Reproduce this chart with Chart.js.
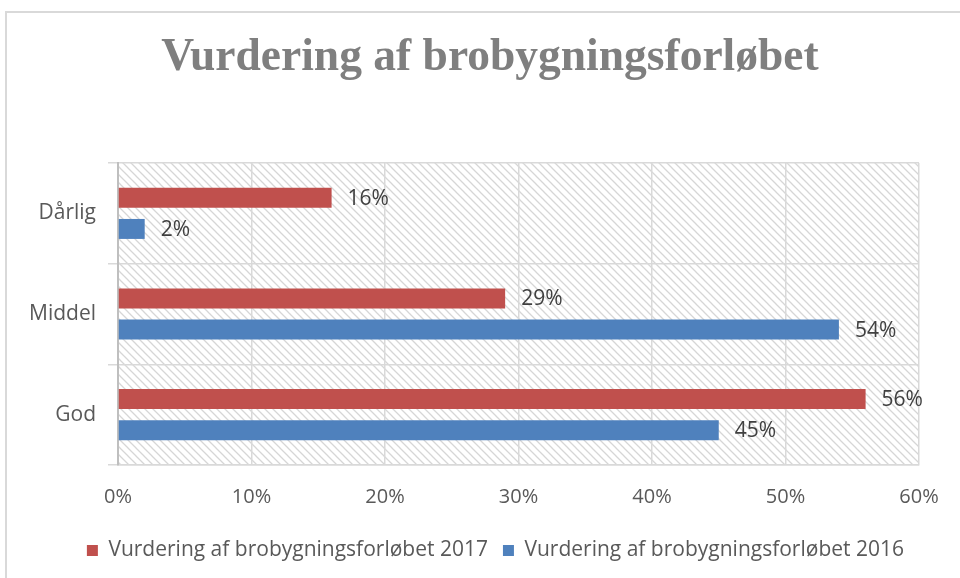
<!DOCTYPE html>
<html>
<head>
<meta charset="utf-8">
<script src="https://cdn.jsdelivr.net/npm/chart.js@4/dist/chart.umd.min.js"></script>
<style>
  html, body { margin: 0; padding: 0; background: #fff; }
  #frame { position: absolute; left: 5px; top: 11px; width: 1000px; height: 600px; border: 2px solid #d9d9d9; }
  #wrap { position: absolute; left: 0; top: 0; width: 960px; height: 578px; }
</style>
</head>
<body>
<div id="frame"></div>
<div id="wrap"><canvas id="myChart" width="960" height="578"></canvas></div>
<script>
// data
const chartTitle = "Vurdering af brobygningsforløbet";
const categories = ["Dårlig", "Middel", "God"];
const values2017 = [16, 29, 56];
const values2016 = [2, 54, 45];
const seriesNames = ["Vurdering af brobygningsforløbet 2017", "Vurdering af brobygningsforløbet 2016"];
const xTicks = { min: 0, max: 60, step: 10 };

const textFont = "'Open Sans', sans-serif";

// diagonal hatch behind the plot area
const makeHatch = ctx => {
  const c = document.createElement("canvas");
  c.width = 8; c.height = 8;
  const g = c.getContext("2d");
  g.fillStyle = "#fff";
  g.fillRect(0, 0, 8, 8);
  g.strokeStyle = "#d6d6d6";
  g.lineWidth = 1.3;
  g.beginPath();
  g.moveTo(-1, -1); g.lineTo(9, 9);
  g.moveTo(-1, 7); g.lineTo(1, 9);
  g.moveTo(7, -1); g.lineTo(9, 1);
  g.stroke();
  return ctx.createPattern(c, "repeat");
};

const hatchPlugin = {
  id: "hatch",
  beforeDraw(chart) {
    const { ctx, chartArea: a } = chart;
    ctx.save();
    ctx.fillStyle = makeHatch(ctx);
    ctx.fillRect(a.left, a.top, a.right - a.left, a.bottom - a.top);
    ctx.restore();
  }
};

// title sits a bit right of the plot centre in the original, so draw it ourselves
const titlePlugin = {
  id: "offsetTitle",
  afterDraw(chart) {
    const ctx = chart.ctx;
    ctx.save();
    ctx.font = "bold 45.5px 'Liberation Serif', serif";
    ctx.fillStyle = "#7f7f7f";
    ctx.textAlign = "center";
    ctx.textBaseline = "middle";
    ctx.fillText(chartTitle, 490, 58);
    ctx.restore();
  }
};

// value labels to the right of each bar
const valueLabels = {
  id: "valueLabels",
  afterDatasetsDraw(chart) {
    const ctx = chart.ctx;
    ctx.save();
    ctx.font = "21px " + textFont;
    ctx.fillStyle = "#404040";
    ctx.textBaseline = "middle";
    chart.data.datasets.forEach((ds, i) => {
      chart.getDatasetMeta(i).data.forEach((bar, j) => {
        ctx.fillText(ds.data[j] + "%", bar.x + 16, bar.y + 1);
      });
    });
    ctx.restore();
  }
};

const ctx = document.getElementById("myChart").getContext("2d");
new Chart(ctx, {
  type: "bar",
  data: {
    labels: categories,
    datasets: [
      { label: seriesNames[0], data: values2017, backgroundColor: "#c0504d" },
      { label: seriesNames[1], data: values2016, backgroundColor: "#4f81bd" }
    ]
  },
  options: {
    indexAxis: "y",
    responsive: false,
    animation: false,
    layout: { padding: { left: 0, right: 41, top: 163, bottom: 7 } },
    datasets: { bar: { categoryPercentage: 0.62, barPercentage: 0.64 } },
    scales: {
      x: {
        min: xTicks.min,
        max: xTicks.max,
        ticks: {
          stepSize: xTicks.step,
          padding: 20,
          color: "#595959",
          font: { family: textFont, size: 20 },
          callback: v => v + "%"
        },
        grid: { color: "#d9d9d9", lineWidth: 1.5, drawTicks: false },
        border: { color: "#d9d9d9", width: 1.5 },
        afterFit: s => { s.height = 60; }
      },
      y: {
        ticks: { padding: 12, color: "#595959", font: { family: textFont, size: 21 } },
        grid: { color: "#d9d9d9", lineWidth: 1.5, tickLength: 10, offset: true },
        border: { color: "#bfbfbf", width: 2 },
        afterFit: s => { s.width = 118; }
      }
    },
    plugins: {
      title: { display: false },
      legend: {
        position: "bottom",
        align: "end",
        labels: {
          boxWidth: 11,
          boxHeight: 11,
          padding: 15,
          color: "#595959",
          font: { family: textFont, size: 21 }
        }
      },
      tooltip: { enabled: false }
    }
  },
  plugins: [hatchPlugin, valueLabels, titlePlugin]
});
</script>
</body>
</html>
